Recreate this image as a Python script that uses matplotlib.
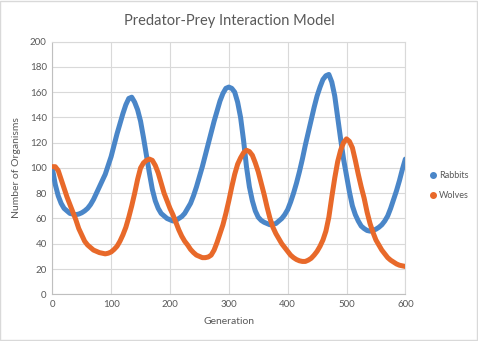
import matplotlib.pyplot as plt
from matplotlib.lines import Line2D
from matplotlib.patches import Rectangle

# Valores (a cada 5 gerações)
geracoes = list(range(0, 601, 5))
coelhos = [100, 87, 78, 72, 68, 66, 64, 63.5, 63, 63.5,
           64.5, 66, 68, 71, 75, 80, 85, 90, 95, 102,
           109, 118, 127, 135, 143, 150, 155, 156, 152, 146,
           137, 124, 110, 96, 83, 74, 68, 64, 62, 60,
           59, 58, 58.5, 60, 61.5, 64, 68, 72, 78, 85,
           93, 101, 110, 119, 128, 137, 145, 153, 159, 163,
           164, 163, 160, 152, 140, 122, 101, 85, 74, 66,
           61, 58.5, 57, 56, 55, 55.5, 56, 58, 60, 63,
           67, 73, 80, 88, 97, 107, 118, 128, 138, 148,
           157, 164, 170, 173, 174, 168, 157, 140, 123, 107,
           94, 81, 70, 63, 58, 54, 52, 50.5, 50, 50.5,
           51.5, 53, 55, 58, 62, 68, 75, 82, 90, 99,
           107]
lobos = [101, 101, 98, 91, 84, 77, 71, 65, 59, 52,
         47, 42, 39, 37, 35, 34, 33, 32.5, 32, 32.5,
         33.5, 35.5, 38, 42, 47, 53, 61, 70, 80, 91,
         100, 104, 106, 107, 106, 102, 96, 88, 80, 74,
         68, 63, 57, 51, 46, 42, 39, 35.5, 33, 31,
         30, 29, 29, 29.5, 31, 35, 41, 48, 55, 64,
         74, 85, 95, 103, 108, 112, 114, 113, 110, 104,
         97, 88, 79, 69, 60, 53, 48, 44, 40, 37,
         34, 31, 29, 27.5, 26.5, 26, 26, 27, 28.5, 31,
         34, 38, 43, 50, 61, 77, 92, 105, 114, 120,
         123, 121, 116, 106, 95, 85, 76, 65, 56, 49,
         43, 39, 35, 32, 29, 27, 25.5, 24, 23, 22.5,
         22]

cor_coelhos = '#4A86C8'
cor_lobos = '#E8692A'

plt.rcParams['font.family'] = ['Lato', 'DejaVu Sans']

fig = plt.figure(figsize=(4.78, 3.41), dpi=100)
ax = fig.add_axes([0.1094, 0.137, 0.7386, 0.741])

ax.plot(geracoes, coelhos, color=cor_coelhos, lw=3.6, solid_capstyle='round', solid_joinstyle='round', zorder=3)
ax.plot(geracoes, lobos, color=cor_lobos, lw=3.6, solid_capstyle='round', solid_joinstyle='round', zorder=4)

ax.set_xlim(0, 600)
ax.set_ylim(0, 200)
ax.set_xticks(range(0, 601, 100))
ax.set_yticks(range(0, 201, 20))
ax.grid(True, color='#D9D9D9', lw=0.8)
ax.set_axisbelow(True)
ax.tick_params(length=0, labelsize=7, colors='#595959', pad=4)
for lado in ['top', 'right']:
    ax.spines[lado].set_color('#D9D9D9')
for lado in ['left', 'bottom']:
    ax.spines[lado].set_color('#BFBFBF')

ax.set_title("Predator-Prey Interaction Model", fontsize=10.5, color='#595959', pad=12)
ax.set_xlabel("Generation", fontsize=7.5, color='#595959', labelpad=6)
ax.set_ylabel("Number of Organisms", fontsize=7.5, color='#595959', labelpad=6)

handles = [Line2D([], [], ls='', marker='o', ms=4, color=cor_coelhos),
           Line2D([], [], ls='', marker='o', ms=4, color=cor_lobos)]
fig.legend(handles, ['Rabbits', 'Wolves'], loc='center left', bbox_to_anchor=(0.88, 0.455),
           frameon=False, fontsize=6.5, labelcolor='#595959', handletextpad=0.1,
           labelspacing=1.2, handlelength=1.0)

fig.add_artist(Rectangle((0.001, 0.0015), 0.997, 0.996, transform=fig.transFigure,
                         fill=False, edgecolor='#D9D9D9', lw=1))

fig.savefig('out.png', dpi=100)
